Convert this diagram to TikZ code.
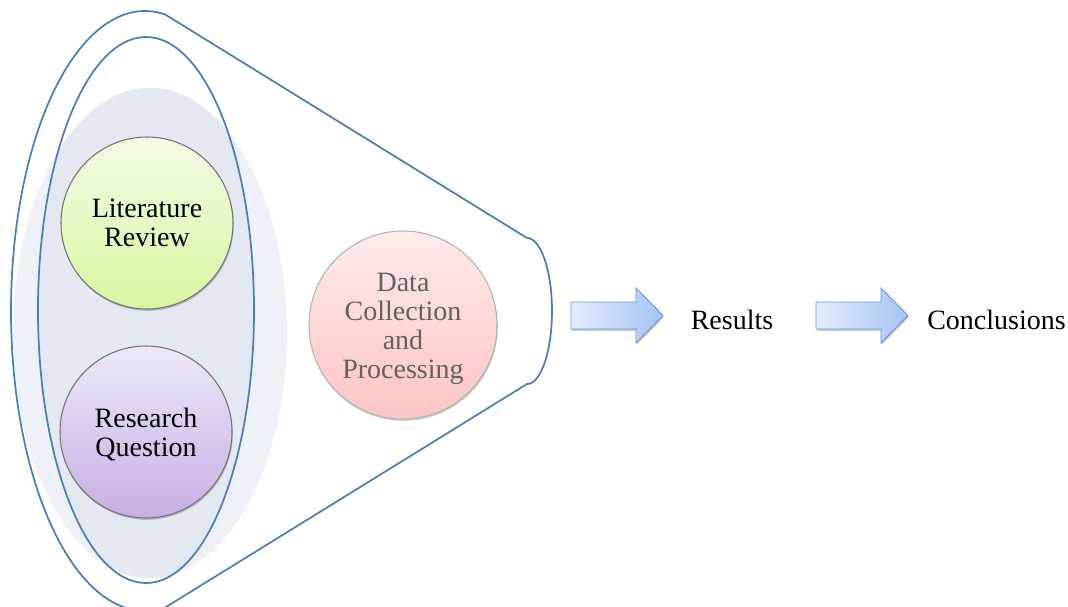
\documentclass[tikz,border=0pt]{standalone}
\usepackage{fontspec}
\setmainfont{Liberation Serif}
\usetikzlibrary{shadows}

\definecolor{edgeblue}{HTML}{4A7EBB}
\definecolor{hazeouter}{HTML}{EEF2F8}
\definecolor{hazeinner}{HTML}{E4E8F1}
\definecolor{littop}{HTML}{F2FBE5}
\definecolor{litbot}{HTML}{D8F6A0}
\definecolor{rqtop}{HTML}{EEE7F8}
\definecolor{rqbot}{HTML}{C6AFE3}
\definecolor{dcptop}{HTML}{FFEBEC}
\definecolor{dcpbot}{HTML}{FDC4C4}
\definecolor{arrowleft}{HTML}{E3ECFC}
\definecolor{arrowright}{HTML}{A6C3F4}
\definecolor{arrowedge}{HTML}{6E96D3}

\newcommand\stagefont{\fontsize{21}{21.75}\selectfont}

\begin{document}
\begin{tikzpicture}[x=0.75pt,y=-0.75pt,
  outline/.style={draw=edgeblue, line width=1.3pt, line join=round},
  softshadow/.style={drop shadow={shadow xshift=0.6pt, shadow yshift=-1.4pt, opacity=0.3, fill=black!70}},
  stage/.style={circle, draw=black!55, line width=0.8pt, minimum size=#1,
    inner sep=0pt, softshadow},
  stagetext/.style={align=center, font=\stagefont, inner sep=0pt},
  blockarrow/.style={draw=arrowedge, line width=0.7pt, left color=arrowleft,
    right color=arrowright, softshadow},
  caption/.style={font=\stagefont, anchor=base, inner sep=0pt}]

  \useasboundingbox (0,0) rectangle (1068,607);

  % pale halo behind the two starting stages
  \fill[hazeouter] (150,333) ellipse [x radius=137, y radius=245];
  \begin{scope}
    \clip (150,333) ellipse [x radius=137, y radius=245];
    \fill[hazeinner] (146,310) ellipse [x radius=108, y radius=273];
  \end{scope}

  % inner oval
  \draw[outline] (146,310) ellipse [x radius=108, y radius=273];

  % funnel: oval on the left, narrowing to a rounded mouth on the right
  \draw[outline]
    plot[domain=-81.4:-278.6, samples=120, smooth] ({145+134*cos(\x)},{311+300*sin(\x)})
    -- (527,384)
    -- plot[domain=90:-90, samples=60, smooth] ({527+25*cos(\x)},{311+73*sin(\x)})
    -- cycle;

  % stages
  \node[stage=129pt, top color=littop, bottom color=litbot] (lit) at (147,223) {};
  \node[stagetext] (littext) at (lit.center) {Literature\\Review};

  \node[stage=129pt, top color=rqtop, bottom color=rqbot] (rq) at (146,432) {};
  \node[stagetext, yshift=-2.25pt] (rqtext) at (rq.center) {Research\\Question};

  \node[stage=141pt, draw=black!30, top color=dcptop, bottom color=dcpbot]
    (dcp) at (403,325) {};
  \node[stagetext, text=black!62, yshift=-2.6pt] (dcptext) at (dcp.center)
    {Data\\Collection\\and\\Processing};

  % block arrows
  \draw[blockarrow] (571,302) -- (636,302) -- (636,288) -- (663,315.5)
    -- (636,343) -- (636,329) -- (571,329) -- cycle;
  \draw[blockarrow] (816,302) -- (881,302) -- (881,288) -- (908,315.5)
    -- (881,343) -- (881,329) -- (816,329) -- cycle;

  % outcomes
  \node[caption] (results) at (732,329) {Results};
  \node[caption] (conclusions) at (996.5,329) {Conclusions};
\end{tikzpicture}
\end{document}
